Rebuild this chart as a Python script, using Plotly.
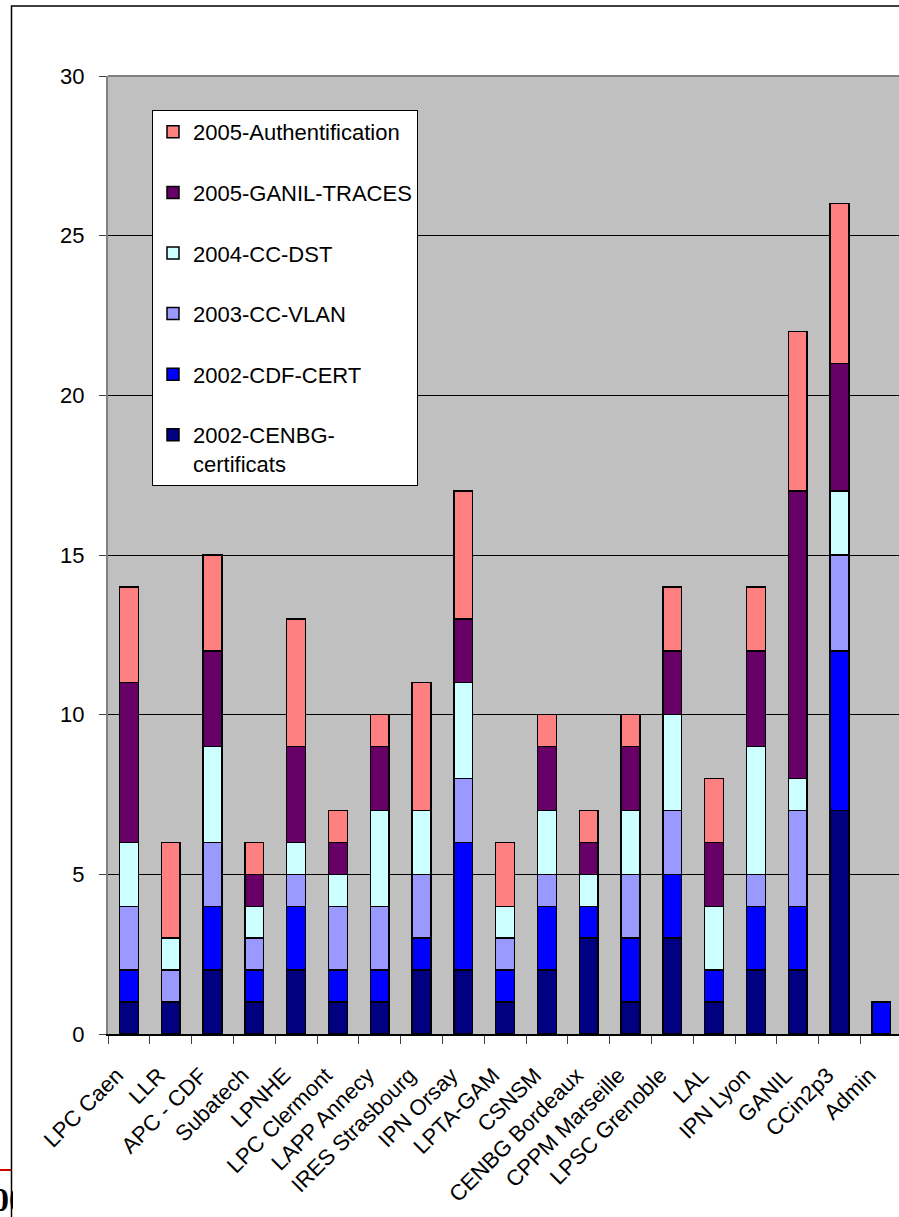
import plotly.graph_objects as go

# Sites (x categories)
sites = ["LPC Caen", "LLR", "APC - CDF", "Subatech", "LPNHE", "LPC Clermont",
         "LAPP Annecy", "IRES Strasbourg", "IPN Orsay", "LPTA-GAM", "CSNSM",
         "CENBG Bordeaux", "CPPM Marseille", "LPSC Grenoble", "LAL", "IPN Lyon",
         "GANIL", "CCin2p3", "Admin"]

# Counts per project, stacked bottom to top
cenbg_certificats = [1, 1, 2, 1, 2, 1, 1, 2, 2, 1, 2, 3, 1, 3, 1, 2, 2, 7, 0]
cdf_cert          = [1, 0, 2, 1, 2, 1, 1, 1, 4, 1, 2, 1, 2, 2, 1, 2, 2, 5, 1]
cc_vlan           = [2, 1, 2, 1, 1, 2, 2, 2, 2, 1, 1, 0, 2, 2, 0, 1, 3, 3, 0]
cc_dst            = [2, 1, 3, 1, 1, 1, 3, 2, 3, 1, 2, 1, 2, 3, 2, 4, 1, 2, 0]
ganil_traces      = [5, 0, 3, 1, 3, 1, 2, 0, 2, 0, 2, 1, 2, 2, 2, 3, 9, 4, 0]
authentification  = [3, 3, 3, 1, 4, 1, 1, 4, 4, 2, 1, 1, 1, 2, 2, 2, 5, 5, 0]

series_names = ["2002-CENBG-<br>certificats", "2002-CDF-CERT", "2003-CC-VLAN",
                "2004-CC-DST", "2005-GANIL-TRACES", "2005-Authentification"]
series_values = [cenbg_certificats, cdf_cert, cc_vlan, cc_dst, ganil_traces, authentification]
series_colors = ["#000080", "#0000FF", "#9999FF", "#CCFFFF", "#660066", "#FF8080"]

y_ticks = [0, 5, 10, 15, 20, 25, 30]

FONT = "Arial, Liberation Sans, sans-serif"
W, H = 899, 1217
ML, MR, MT, MB = 108, 0, 76, 183
plot_w = W - ML - MR
plot_h = H - MT - MB
cat_px = 41.8  # width of one category slot


def px_x(px):
    return (px - ML) / plot_w


def px_y(py):
    return (H - MB - py) / plot_h


fig = go.Figure()
n = len(series_names)
for i, (name, vals, col) in enumerate(zip(series_names, series_values, series_colors)):
    fig.add_trace(go.Bar(
        x=sites, y=vals, name=name, legendgroup=f"g{i}", legendrank=n - i,
        marker=dict(color=col, line=dict(color="black", width=1.5)),
    ))

fig.update_layout(
    width=W, height=H,
    margin=dict(l=ML, r=MR, t=MT, b=MB, pad=0),
    barmode="stack", bargap=0.55,
    paper_bgcolor="white", plot_bgcolor="#C0C0C0",
    font=dict(family=FONT, size=22, color="black"),
    showlegend=True,
    legend=dict(
        x=px_x(152), y=px_y(110), xanchor="left", yanchor="top",
        bgcolor="white", bordercolor="black", borderwidth=1,
        font=dict(family=FONT, size=22, color="black"),
        traceorder="grouped", tracegroupgap=29, valign="top",
    ),
    xaxis=dict(
        type="category", range=[-0.5, -0.5 + plot_w / cat_px],
        tickangle=-45, tickson="boundaries", ticks="outside", ticklen=8,
        tickcolor="#404040", ticklabelstandoff=18, ticklabelshift=-12,
        showgrid=False,
        showline=True, linecolor="black", linewidth=1.5,
        tickfont=dict(family=FONT, size=22, color="black"),
    ),
    yaxis=dict(
        range=[0, 30], tickvals=y_ticks, ticks="outside", ticklen=7,
        tickcolor="#404040", ticklabelstandoff=10,
        showgrid=True, gridcolor="black", gridwidth=1, zeroline=False,
        showline=True, linecolor="#808080", linewidth=2,
        tickfont=dict(family=FONT, size=22, color="black"),
    ),
    shapes=[
        # plot-area top border
        dict(type="line", xref="paper", yref="paper", x0=0, x1=1, y0=1, y1=1,
             line=dict(color="#808080", width=2), layer="above"),
        # outer frame
        dict(type="rect", xref="paper", yref="paper",
             x0=px_x(11.5), x1=px_x(960), y0=px_y(1300), y1=px_y(6),
             line=dict(color="black", width=1.5), fillcolor="rgba(0,0,0,0)"),
        # red rule at lower left
        dict(type="line", xref="paper", yref="paper",
             x0=px_x(-2), x1=px_x(11), y0=px_y(1170), y1=px_y(1170),
             line=dict(color="#CC0000", width=2)),
    ],
    annotations=[
        dict(text="<b>200</b>", xref="paper", yref="paper",
             x=px_x(-26), y=px_y(1180), xanchor="left", yanchor="top",
             width=38, align="left", showarrow=False, borderpad=0,
             font=dict(family="Liberation Serif, serif", size=34, color="black")),
    ],
)

fig.write_html("out.html")
